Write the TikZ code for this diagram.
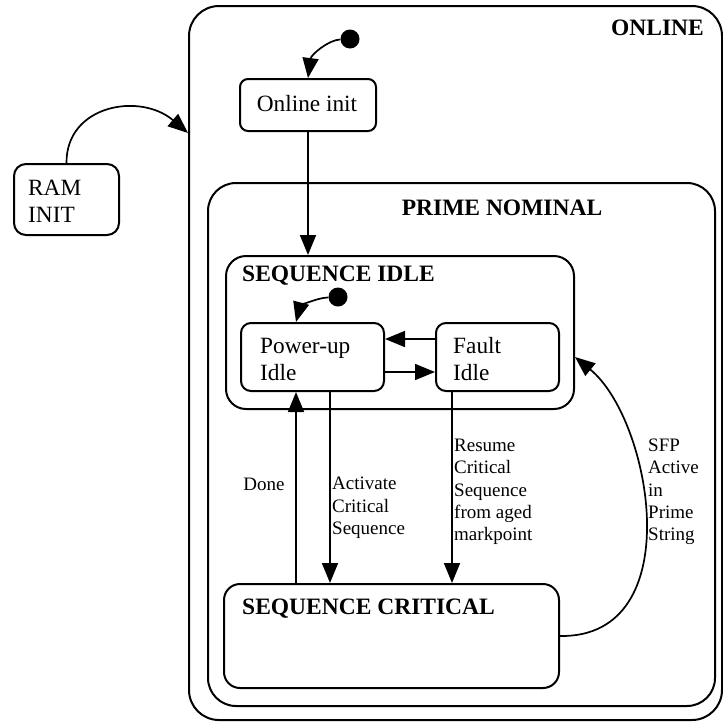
\documentclass[tikz,border=0pt]{standalone}
\usepackage{fontspec}
\setmainfont{Liberation Serif}
\usetikzlibrary{arrows.meta}
\begin{document}
\begin{tikzpicture}[x=1pt,y=-1pt,
  box/.style={draw, line width=2pt, rectangle, inner sep=0pt, anchor=north west},
  arr/.style={line width=1.7pt, -{Triangle[length=20pt,width=16pt]}},
  dot/.style={circle, fill, inner sep=0pt, minimum size=19pt},
  main/.style={font=\fontsize{23.3}{27}\selectfont, inner sep=0pt, align=left},
  head/.style={font=\fontsize{23.5}{27}\selectfont\bfseries, inner sep=0pt},
  lab/.style={font=\fontsize{19}{22.3}\selectfont, inner sep=0pt, align=left}]
\useasboundingbox (0,0) rectangle (723,721);

% boxes
\node[box, rounded corners=30pt, minimum width=533pt, minimum height=714pt] (on) at (188,5) {};
\node[box, rounded corners=28pt, minimum width=507pt, minimum height=523pt] (pn) at (207,182) {};
\node[box, rounded corners=20pt, minimum width=348pt, minimum height=153pt] (si) at (225,255) {};
\node[box, rounded corners=10pt, minimum width=143pt, minimum height=68pt] (pu) at (240,322) {};
\node[box, rounded corners=10pt, minimum width=123pt, minimum height=68pt] (fi) at (435,322) {};
\node[box, rounded corners=16pt, minimum width=335pt, minimum height=104pt] (sc) at (223,583) {};
\node[box, rounded corners=8pt, minimum width=136pt, minimum height=52pt] (oi) at (239,78) {};
\node[box, rounded corners=12pt, minimum width=105pt, minimum height=71pt] (ram) at (13,163) {};

% initial dots
\node[dot] (d1) at (350,39) {};
\node[dot] (d2) at (338,297) {};

% texts
\node[head, anchor=east] (tonline) at (704,28) {ONLINE};
\node[head] (tprime) at (502,208) {PRIME NOMINAL};
\node[head, anchor=west] (tsi) at (242,276) {SEQUENCE IDLE};
\node[head, anchor=west] (tsc) at (242,609) {SEQUENCE CRITICAL};
\node[main] (toi) at (307,104) {Online init};
\node[main, anchor=west] (tpu) at (260,359) {Power-up\\Idle};
\node[main, anchor=west] (tfi) at (453,359) {Fault\\Idle};
\node[main, anchor=west] (tram) at (28,201) {RAM\\INIT};

% labels
\node[lab] (ldone) at (264,484) {Done};
\node[lab, anchor=west] (lact) at (332,508) {Activate\\Critical\\Sequence};
\node[lab, anchor=west] (lres) at (454,492) {Resume\\Critical\\Sequence\\from aged\\markpoint};
\node[lab, anchor=west] (lsfp) at (648,492) {SFP\\Active\\in\\Prime\\String};

% connectors
\draw[arr] (d1) .. controls (328,40) and (311,55) .. (oi.north);
\draw[arr] (oi.south) -- (oi.south |- si.north);
\draw[arr] (ram.north) .. controls (66,105) and (140,92) .. ([yshift=-128pt]on.north west);
\draw[arr] (d2) .. controls (315,298) and (300,307) .. ([xshift=56pt]pu.north west);
\draw[arr] ([yshift=-17pt]fi.north west) -- ([yshift=-17pt]fi.north west -| pu.east);
\draw[arr] ([yshift=-50pt]pu.north east) -- ([yshift=-50pt]pu.north east -| fi.west);
\draw[arr] ([xshift=56pt]pu.south west |- sc.north) -- ([xshift=56pt]pu.south west);
\draw[arr] ([xshift=90pt]pu.south west) -- ([xshift=90pt]pu.south west |- sc.north);
\draw[arr] ([xshift=17pt]fi.south west) -- ([xshift=17pt]fi.south west |- sc.north);
\draw[arr] (sc.east) .. controls (690,638) and (652,420) .. ([yshift=-102pt]si.north east);
\end{tikzpicture}
\end{document}
